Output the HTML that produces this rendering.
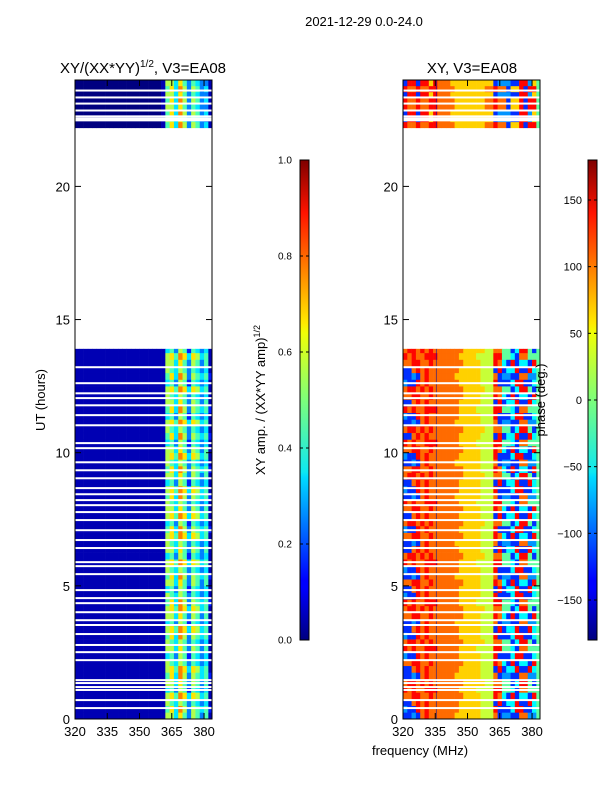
<!DOCTYPE html>
<html><head><meta charset="utf-8">
<style>
body{margin:0;background:#fff;font-family:"Liberation Sans",sans-serif;}
svg text{font-family:"Liberation Sans",sans-serif;fill:#000;}
</style></head>
<body>
<svg id="fig" width="600" height="800" viewBox="0 0 600 800" xmlns="http://www.w3.org/2000/svg">
<defs>
<linearGradient id="jetg" x1="0" y1="1" x2="0" y2="0">
<stop offset="0" stop-color="#00007f"/><stop offset="0.11" stop-color="#0000ff"/><stop offset="0.125" stop-color="#0000ff"/>
<stop offset="0.34" stop-color="#00dcff"/><stop offset="0.35" stop-color="#0de8f2"/><stop offset="0.5" stop-color="#7dff7a"/>
<stop offset="0.64" stop-color="#f0ff06"/><stop offset="0.66" stop-color="#ffea00"/><stop offset="0.89" stop-color="#ff1300"/><stop offset="1" stop-color="#7f0000"/>
</linearGradient>
<clipPath id="clipL"><rect x="75" y="80" width="137" height="639"/></clipPath>
<clipPath id="clipR"><rect x="403" y="80" width="137" height="639"/></clipPath>
</defs>
<text x="364" y="26" font-size="13" text-anchor="middle">2021-12-29 0.0-24.0</text>
<text x="143" y="73" font-size="15" text-anchor="middle">XY/(XX*YY)<tspan font-size="10" dy="-6">1/2</tspan><tspan dy="6">, V3=EA08</tspan></text>
<text x="472" y="73" font-size="15" text-anchor="middle">XY, V3=EA08</text>
<g id="heatL" clip-path="url(#clipL)"></g>
<g id="heatR" clip-path="url(#clipR)"></g>
<g id="axes"></g>
<text transform="translate(45,400) rotate(-90)" font-size="13" text-anchor="middle">UT (hours)</text>
<text x="420" y="755" font-size="13" text-anchor="middle">frequency (MHz)</text>
<text transform="translate(265,400) rotate(-90)" font-size="13" text-anchor="middle">XY amp. / (XX*YY amp)<tspan font-size="9" dy="-5">1/2</tspan></text>
<text transform="translate(545,400) rotate(-90)" font-size="13" text-anchor="middle">phase (deg.)</text>
<rect x="300" y="160" width="9" height="480" fill="url(#jetg)" stroke="#000" stroke-width="1"/>
<rect x="588" y="160" width="9" height="480" fill="url(#jetg)" stroke="#000" stroke-width="1"/>
<g id="cbar"></g>
</svg>
<script>
const NS="http://www.w3.org/2000/svg";
const freqStart=320, freqStep=2;
const rowStep=0.25;
const bottomEnd=13.9;
const topStart=22.2, topStep=0.225;
const ampTpl=["11111111111111111111166475365351","11111111111111111111157486365452","11111111111111111111165465354341","11111111111111111111167587476451","11111111111111111111145365254341"];
const ampOrder="0123401324021340312401234023143021340123041234102341203412341023";
const ampTop=["00000000000000000000157486365341","00000000000000000000166475354331"];
const ampTopOrder="01010101";
const phTpl=["77887787777777666655587318133184","11787877777776666655518133811834","78878787777777666665577441388414","21187877777776666655581113881134","87877888777776666555588443177444","11217877777766666655571221177224"];
const phOrder="5310425103423150243105342150321045312053041253410235104231502143";
const phTop=["87787788777766666667787716681884","18818868777666666666612221188264"];
const phTopOrder="01100101";
const xTicks=[320,335,350,365,380];
const yTicks=[0,5,10,15,20];
const ampCbTicks=[0.0,0.2,0.4,0.6,0.8,1.0];
const phCbTicks=[-150,-100,-50,0,50,100,150];
const gaps=[0.41,0.71,1.09,1.2,1.35,1.46,2.21,2.51,2.78,3.19,3.53,3.71,4.01,4.35,4.54,4.84,5.44,5.74,5.89,6.42,6.72,7.09,7.47,7.77,8.03,8.22,8.44,8.67,9.04,9.34,9.64,10.17,10.36,11.03,11.41,11.78,12.05,12.23,12.61,13.21,22.48,22.55,22.63,22.85,23.11,23.34,23.6];

function xs(f,x0){return x0+(f-320)*137/63.7;}
function ys(t){return 719-t*26.63;}
function jet(v){v=Math.max(0,Math.min(1,v));
 const r=Math.max(0,Math.min(1,Math.min(4*v-1.5,-4*v+4.5)));
 const g=Math.max(0,Math.min(1,Math.min(4*v-0.5,-4*v+3.5)));
 const b=Math.max(0,Math.min(1,Math.min(4*v+0.5,-4*v+2.5)));
 return `rgb(${Math.round(r*255)},${Math.round(g*255)},${Math.round(b*255)})`;}
function cell(g,x0,f,t0,t1,color){
 const r=document.createElementNS(NS,'rect');
 
 
 const xa=xs(f,x0), xb=xs(f+freqStep,x0);
 r.setAttribute('x',xa);r.setAttribute('y',ys(t1));
 r.setAttribute('width',xb-xa+0.3);r.setAttribute('height',ys(t0)-ys(t1)+0.3);
 r.setAttribute('fill',color);g.appendChild(r);}
function drawBlock(g,x0,rows,start,step,end,isAmp){
 rows.forEach((s,i)=>{const t0=start+i*step,t1=Math.min(start+(i+1)*step,end);
  for(let j=0;j<s.length;j++){const d=+s[j];
   const v=isAmp?(d*0.1-0.05):((d+0.7)/10);
   cell(g,x0,freqStart+j*freqStep,t0,t1,jet(v));}});}
const hL=document.getElementById('heatL'),hR=document.getElementById('heatR');
const nB=Math.ceil(bottomEnd/rowStep);
const ampRows=[],phRows=[],ampTRows=[],phTRows=[];
for(let i=0;i<nB;i++){ampRows.push(ampTpl[+ampOrder[i]]);phRows.push(phTpl[+phOrder[i]]);}
for(let i=0;i<8;i++){ampTRows.push(ampTop[+ampTopOrder[i]]);phTRows.push(phTop[+phTopOrder[i]]);}
drawBlock(hL,75,ampRows,0,rowStep,bottomEnd,true);
drawBlock(hL,75,ampTRows,topStart,topStep,24,true);
drawBlock(hR,403,phRows,0,rowStep,bottomEnd,false);
drawBlock(hR,403,phTRows,topStart,topStep,24,false);
[[0,bottomEnd],[topStart,24]].forEach(([a,b])=>{const l=document.createElementNS(NS,'line');


const x=xs(335.5,403);l.setAttribute('x1',x);l.setAttribute('x2',x);l.setAttribute('y1',ys(b));l.setAttribute('y2',ys(a));
l.setAttribute('stroke','#0010a0');l.setAttribute('stroke-width','0.8');l.setAttribute('opacity','0.7');hR.appendChild(l);});
gaps.forEach(t=>{[75,403].forEach(x0=>{const r=document.createElementNS(NS,'rect');
 
 
 r.setAttribute('x',x0);r.setAttribute('y',ys(t)-1);r.setAttribute('width',137);r.setAttribute('height',2);r.setAttribute('fill','#fff');
 (x0===75?hL:hR).appendChild(r);});});
const ax=document.getElementById('axes');
function el(tag,attrs,txt){const e=document.createElementNS(NS,tag);for(const k in attrs)e.setAttribute(k,attrs[k]);if(txt!==undefined)e.textContent=txt;return e;}
[75,403].forEach(x0=>{
 const fr=el('rect',{x:x0,y:80,width:137,height:639,fill:'none',stroke:'#000','stroke-width':1});
 
 
 ax.appendChild(fr);
 xTicks.forEach(f=>{const x=xs(f,x0);
  ax.appendChild(el('line',{x1:x,x2:x,y1:719,y2:713,stroke:'#000'}));
  ax.appendChild(el('line',{x1:x,x2:x,y1:80,y2:86,stroke:'#000'}));
  const t=el('text',{x:x,y:736,'font-size':13,'text-anchor':'middle'},String(f));
  
  
  ax.appendChild(t);});
 yTicks.forEach(v=>{const y=ys(v);
  ax.appendChild(el('line',{x1:x0,x2:x0+6,y1:y,y2:y,stroke:'#000'}));
  ax.appendChild(el('line',{x1:x0+131,x2:x0+137,y1:y,y2:y,stroke:'#000'}));
  const t=el('text',{x:x0-5,y:y+5,'font-size':13,'text-anchor':'end'},String(v));
  
  
  ax.appendChild(t);});
});
const cb=document.getElementById('cbar');
ampCbTicks.forEach(v=>{const y=640-v*480;
 cb.appendChild(el('line',{x1:300,x2:303,y1:y,y2:y,stroke:'#000'}));
 cb.appendChild(el('line',{x1:306,x2:309,y1:y,y2:y,stroke:'#000'}));
 const t=el('text',{x:278,y:y+3.5,'font-size':10},v.toFixed(1));
 
 
 cb.appendChild(t);});
phCbTicks.forEach(v=>{const y=640-(v+180)*480/360;
 cb.appendChild(el('line',{x1:588,x2:591,y1:y,y2:y,stroke:'#000'}));
 cb.appendChild(el('line',{x1:594,x2:597,y1:y,y2:y,stroke:'#000'}));
 const t=el('text',{x:582,y:y+4,'font-size':11,'text-anchor':'end'},v<0?'\u2212'+(-v):String(v));
 
 
 cb.appendChild(t);});
</script>
</body></html>
